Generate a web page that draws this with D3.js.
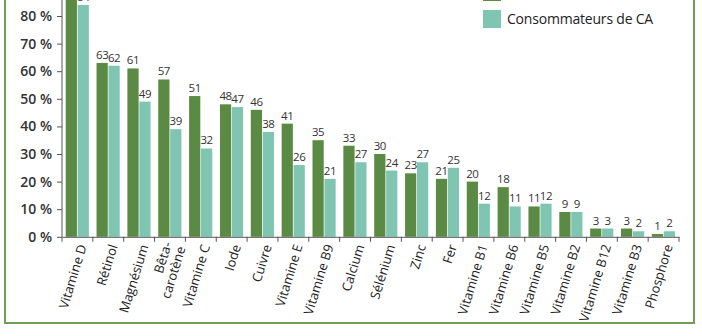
<!DOCTYPE html>
<html><head><meta charset="utf-8">
<script src="https://cdn.jsdelivr.net/npm/d3@7"></script>
<style>
html,body{margin:0;padding:0;background:#fff;}
svg{display:block;font-family:"Open Sans",sans-serif;}
</style></head>
<body><svg id="c" width="702" height="336"></svg>
<script>
const categories = ["Vitamine D","Rétinol","Magnésium","Bêta-|carotène","Vitamine C","Iode","Cuivre","Vitamine E","Vitamine B9","Calcium","Sélénium","Zinc","Fer","Vitamine B1","Vitamine B6","Vitamine B5","Vitamine B2","Vitamine B12","Vitamine B3","Phosphore"];
const nonConsommateurs = [86,63,61,57,51,48,46,41,35,33,30,23,21,20,18,11,9,3,3,1];
const consommateurs = [84,62,49,39,32,47,38,26,21,27,24,27,25,12,11,12,9,3,2,2];
const yTicks = [0,10,20,30,40,50,60,70,80];
const seriesNames = ["Non-consommateurs de CA","Consommateurs de CA"];
const colors = ["#5b8a45","#7fc5b2"];

const svg = d3.select("#c");
const x0 = d3.scaleBand().domain(categories).range([62,679]).padding(0);
const x1 = d3.scaleBand().domain([0,1]).range([3.7, x0.bandwidth()-4]).paddingInner(0.06);
const y = d3.scaleLinear().domain([0,80]).range([236.8,16]);

// frame
const frame = svg.append("g").attr("stroke","#6f9f55").attr("stroke-width",2).attr("fill","none");
frame.append("path").attr("d","M5,0 V323 H694 V0");

// y axis
const yAxis = svg.append("g").attr("transform","translate(62,0)")
  .call(d3.axisLeft(y).tickValues(yTicks).tickFormat(d=>d+" %").tickSize(5).tickPadding(5));
yAxis.select(".domain").attr("d","M0,0 V"+y(0)).attr("stroke","#555");
yAxis.selectAll(".tick line").attr("stroke","#555");
yAxis.selectAll(".tick text").attr("font-size",14).attr("font-family","Open Sans").attr("font-weight",600).attr("fill","#333");

// bars
const groups = svg.append("g").selectAll("g").data(categories).join("g")
  .attr("transform",d=>`translate(${x0(d)},0)`);
groups.each(function(c,i){
  const g = d3.select(this);
  const vals = [nonConsommateurs[i], consommateurs[i]];
  vals.forEach((v,k)=>{
    g.append("rect").attr("x",x1(k)).attr("width",x1.bandwidth())
      .attr("y",y(v)).attr("height",y(0)-y(v)).attr("fill",colors[k]);
    g.append("text").attr("x",x1(k)+x1.bandwidth()/2).attr("y",y(v)-4)
      .attr("text-anchor","middle").attr("font-size",11.5).attr("letter-spacing",-0.4)
      .attr("fill","#333").text(v);
  });
});

// x axis
const xAxis = svg.append("g").attr("transform",`translate(0,${y(0)})`)
  .call(d3.axisBottom(x0).tickSize(0).tickFormat(""));
xAxis.select(".domain").attr("stroke","#555");
xAxis.selectAll(".tick").remove();
const bounds = d3.range(categories.length+1).map(i=>62+i*x0.bandwidth());
xAxis.selectAll("line.sep").data(bounds).join("line").attr("class","sep")
  .attr("x1",d=>d).attr("x2",d=>d).attr("y1",0).attr("y2",5).attr("stroke","#555");

// x labels
const lab = svg.append("g").selectAll("text").data(categories).join("text")
  .attr("transform",d=>`translate(${x0(d)+x0.bandwidth()/2+5},${y(0)+8}) rotate(-73)`)
  .attr("text-anchor","end").attr("font-size",13).attr("fill","#222");
lab.each(function(d){
  const parts = d.split("|");
  const t = d3.select(this);
  if(parts.length===1){ t.attr("dy","0.35em").text(d); }
  else {
    t.append("tspan").attr("x",0).attr("dy","-0.25em").text(parts[0]);
    t.append("tspan").attr("x",0).attr("dy","1.1em").text(parts[1]);
  }
});

// legend
const legY = [-17, 10];
seriesNames.forEach((n,k)=>{
  svg.append("rect").attr("x",483).attr("y",legY[k]).attr("width",18).attr("height",18).attr("fill",colors[k]);
  svg.append("text").attr("x",507).attr("y",legY[k]+14).attr("font-size",14).attr("letter-spacing",-0.2)
    .attr("fill","#222").text(n);
});
</script></body></html>
